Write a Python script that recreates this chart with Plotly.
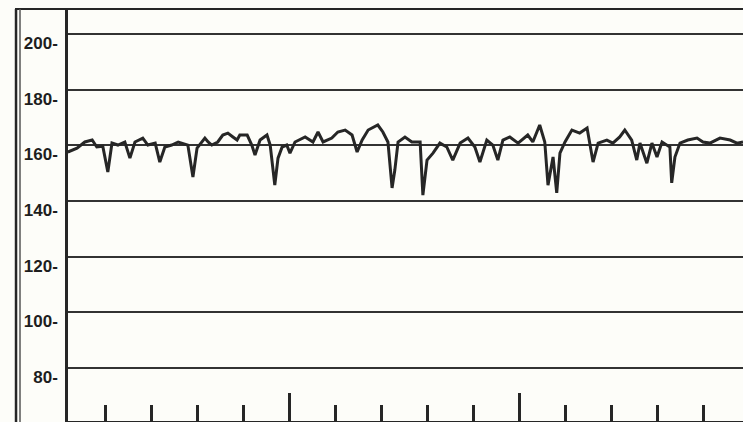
import plotly.graph_objects as go

# Time (minutes) and fetal heart rate (bpm)
time_min = [0.17, 0.26, 0.37, 0.54, 0.70, 0.80, 0.93, 1.04, 1.13, 1.26, 1.41, 1.52, 1.63, 1.80, 1.91,
            2.07, 2.17, 2.28, 2.43, 2.57, 2.65, 2.78, 2.89, 2.98, 3.15, 3.22, 3.30, 3.43, 3.54, 3.65,
            3.76, 3.85, 3.91, 4.07, 4.17, 4.24, 4.35, 4.50, 4.57, 4.67, 4.74, 4.83, 4.93, 5.00, 5.11,
            5.33, 5.50, 5.61, 5.72, 5.91, 6.04, 6.20, 6.35, 6.46, 6.57, 6.70, 6.91, 7.02, 7.13, 7.22,
            7.28, 7.35, 7.50, 7.65, 7.83, 7.89, 7.98, 8.11, 8.26, 8.41, 8.54, 8.70, 8.87, 9.02, 9.13,
            9.28, 9.41, 9.52, 9.63, 9.78, 9.96, 10.17, 10.28, 10.43, 10.54, 10.61, 10.72, 10.80, 10.87,
            10.98, 11.13, 11.30, 11.46, 11.52, 11.59, 11.70, 11.89, 12.02, 12.17, 12.28, 12.43, 12.54,
            12.61, 12.76, 12.87, 12.98, 13.09, 13.26, 13.30, 13.37, 13.48, 13.65, 13.85, 13.98, 14.13,
            14.35, 14.57, 14.72, 14.85]
fhr_bpm = [157.6, 158.3, 159.0, 161.2, 161.9, 159.4, 159.7, 150.4, 160.8, 160.1, 161.2, 155.4, 161.2, 162.6, 160.1,
           160.8, 154.0, 159.4, 160.1, 161.2, 160.8, 160.1, 148.6, 159.0, 162.6, 161.2, 160.1, 161.2, 163.7, 164.4,
           163.0, 161.9, 163.7, 163.7, 160.1, 156.5, 161.9, 163.7, 160.1, 145.7, 155.4, 159.4, 160.1, 157.2, 161.2,
           163.0, 161.2, 164.8, 161.2, 162.6, 164.8, 165.5, 163.7, 157.6, 161.9, 165.5, 167.3, 164.8, 161.2, 144.7,
           151.1, 161.2, 163.0, 161.2, 161.2, 142.1, 154.7, 157.2, 160.8, 159.4, 154.7, 160.8, 162.6, 159.4, 154.0,
           161.9, 160.1, 154.7, 161.9, 163.0, 160.8, 163.7, 161.2, 167.3, 161.2, 145.7, 155.8, 142.9, 157.2,
           161.2, 165.5, 164.4, 166.2, 160.8, 154.0, 160.8, 161.9, 160.8, 163.0, 165.5, 161.9, 154.7,
           160.8, 153.6, 160.8, 155.8, 161.2, 159.4, 146.5, 155.8, 160.8, 161.9, 162.6, 161.2, 160.8,
           162.6, 161.9, 160.8, 161.2]

y_tick_vals = [80, 100, 120, 140, 160, 180, 200]
y_tick_text = ["80-", "100-", "120-", "140-", "160-", "180-", "200-"]

ink = "#262626"
paper_bg = "#fdfdf9"

fig = go.Figure()
fig.add_trace(go.Scatter(
    x=time_min, y=fhr_bpm, mode="lines",
    line=dict(color=ink, width=3), showlegend=False, hoverinfo="skip"))

fig.update_layout(
    width=743, height=422,
    margin=dict(l=68, r=0, t=9, b=1),
    paper_bgcolor=paper_bg, plot_bgcolor=paper_bg,
    xaxis=dict(
        range=[0.174, 14.85], showgrid=False, zeroline=False,
        showticklabels=False,
        showline=True, linecolor=ink, linewidth=2,
        ticks="inside", tick0=0, dtick=5, ticklen=28, tickwidth=2.5, tickcolor=ink,
        minor=dict(ticks="inside", dtick=1, tick0=0, ticklen=16, tickwidth=2.5, tickcolor=ink),
    ),
    yaxis=dict(
        range=[60.96, 208.98], zeroline=False,
        tickmode="array", tickvals=y_tick_vals, ticktext=y_tick_text,
        showgrid=True, gridcolor="#333333", gridwidth=1.6,
        showline=True, linecolor=ink, linewidth=2.5,
        ticks="", ticklabelstandoff=4, ticklabelshift=9,
        tickfont=dict(family="Liberation Sans", size=17, color="#1e1e1e", weight="bold"),
    ),
    shapes=[
        dict(type="line", xref="paper", yref="paper", x0=-0.0785, x1=1, y0=1, y1=1,
             line=dict(color=ink, width=2)),
        dict(type="line", xref="paper", yref="paper", x0=-0.0770, x1=-0.0770, y0=-0.01, y1=1,
             line=dict(color=ink, width=2.5)),
        dict(type="line", xref="paper", yref="paper", x0=-0.0711, x1=-0.0711, y0=-0.01, y1=1,
             line=dict(color="#555555", width=1.5)),
    ],
)

fig.write_html("out.html")
